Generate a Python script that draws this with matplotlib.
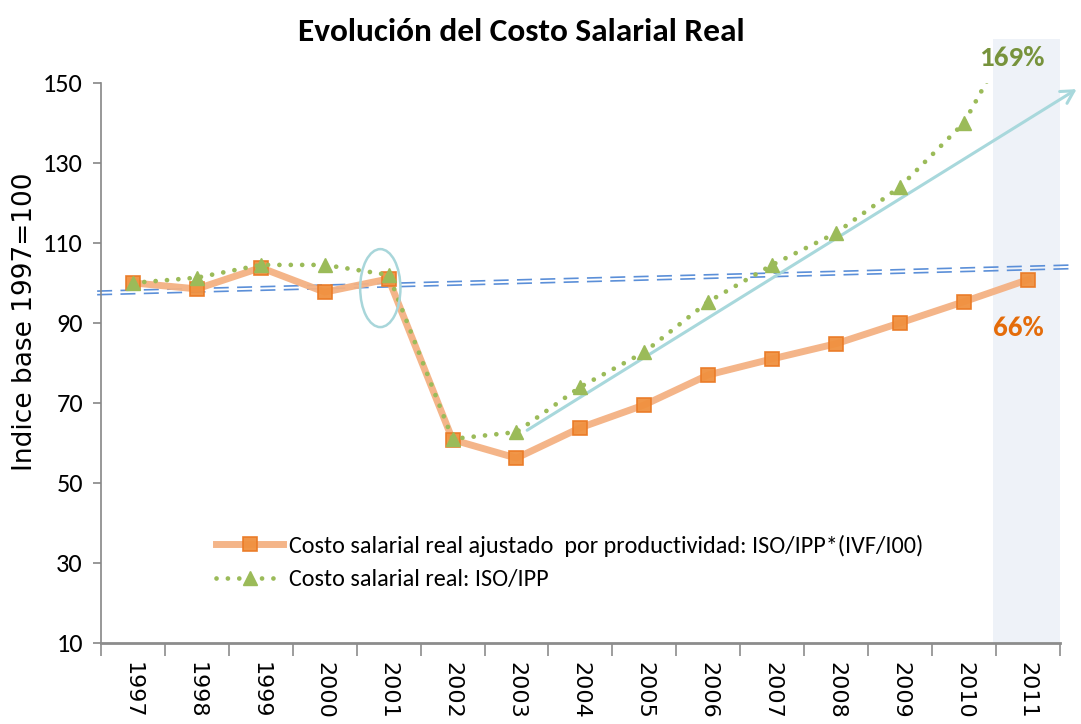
import numpy as np
import matplotlib
matplotlib.use('Agg')
import matplotlib.pyplot as plt
from matplotlib.patches import Ellipse, Rectangle

# data
years = ['1997', '1998', '1999', '2000', '2001', '2002', '2003', '2004',
         '2005', '2006', '2007', '2008', '2009', '2010', '2011']
ajustado = [100, 98.5, 103.8, 97.7, 101, 60.8, 56.2, 63.8, 69.5, 77, 81,
            84.8, 90, 95.3, 100.8]
real = [100, 101.3, 104.5, 104.5, 102, 61, 62.7, 74, 82.7, 95.3, 104.5,
        112.5, 124, 140, 169]
lbl_ajustado = 'Costo salarial real ajustado  por productividad: ISO/IPP*(IVF/I00)'
lbl_real = 'Costo salarial real: ISO/IPP'
trend_y = [97.5, 104]        # tendencia (linea doble)
arrow_y = [62.8, 148.8]      # flecha
pct_real = '169%'
pct_ajustado = '66%'

calib = ['Carlito', 'Liberation Sans', 'DejaVu Sans']

fig = plt.figure(figsize=(10.81, 7.24), dpi=100)
ax = fig.add_axes([0.0934, 0.112, 0.887, 0.7735])
x = np.arange(len(years))

# shaded last year
ax.add_patch(Rectangle((13.45, 10), 1.05, 151, facecolor='#eef2f8',
                       edgecolor='none', zorder=0, clip_on=False))

# double dashed trend line
xt = [-0.56, 14.65]
for off in (-0.45, 0.45):
    ax.plot(xt, [trend_y[0] + off, trend_y[1] + off], color='#5b8fd8', lw=1.2,
            dashes=(9, 5), clip_on=False, zorder=2)

# arrow
ax.annotate('', xy=(14.8, arrow_y[1]), xytext=(6.13, arrow_y[0]),
            arrowprops=dict(arrowstyle='->,head_length=0.9,head_width=0.5',
                            color='#a8d8dc', lw=2.2), annotation_clip=False, zorder=3)

ax.plot(x, ajustado, color='#f4b183', lw=5, marker='s', markersize=10.5,
        markerfacecolor='#f0913f', markeredgecolor='#ea7a25', markeredgewidth=1.2,
        label=lbl_ajustado, zorder=4, alpha=0.95)
ax.plot(x, real, color='#9bbb59', lw=3.4, dashes=(0.01, 2.4),
        dash_capstyle='round', marker='^', markersize=10,
        markerfacecolor='#9bbb59', markeredgecolor='#9bbb59',
        label=lbl_real, zorder=5)

ax.add_patch(Ellipse((3.87, 98.7), 0.63, 19.5, fill=False,
                     edgecolor='#a8d6da', lw=1.8, zorder=6))

ax.text(13.75, 156.3, pct_real, color='#77933c', fontsize=21, fontweight='bold',
        family=calib, ha='center', va='center')
ax.text(13.85, 88.8, pct_ajustado, color='#e46c0a', fontsize=21, fontweight='bold',
        family=calib, ha='center', va='center')

ax.set_xlim(-0.5, 14.5)
ax.set_ylim(10, 150)
ax.set_yticks(np.arange(10, 151, 20))
ax.set_yticklabels([str(v) for v in range(10, 151, 20)], family=calib, fontsize=19)
ax.tick_params(axis='y', length=6, width=1.2, color='#868686', pad=7)

ax.set_xticks(np.arange(-0.5, 15, 1))
ax.set_xticklabels([])
ax.set_xticks(x, minor=True)
ax.set_xticklabels(years, minor=True, rotation=-90, fontsize=16,
                   family='DejaVu Sans', va='top', ha='center')
ax.tick_params(axis='x', which='major', length=9, width=1.2, color='#8c8c8c')
ax.tick_params(axis='x', which='minor', length=0, pad=14)

ax.spines['top'].set_visible(False)
ax.spines['right'].set_visible(False)
ax.spines['left'].set_color('#868686')
ax.spines['left'].set_linewidth(1.2)
ax.spines['bottom'].set_color('#8c8c8c')
ax.spines['bottom'].set_linewidth(2)

fig.text(0.0231, 0.555, 'Indice base 1997=100', rotation=90, ha='center', va='center',
         fontsize=19, family='DejaVu Sans')

ax.legend(loc='upper left', bbox_to_anchor=(0.1906, 0.2747), bbox_transform=fig.transFigure,
          frameon=False, prop={'family': calib, 'size': 17.4}, handlelength=2.8,
          handletextpad=0.25, labelspacing=0.5, borderaxespad=0)

fig.text(0.482, 0.956, 'Evolución del Costo Salarial Real', ha='center', va='center',
         fontsize=24, fontweight='bold', family=calib)

fig.savefig('out.png', dpi=100)
